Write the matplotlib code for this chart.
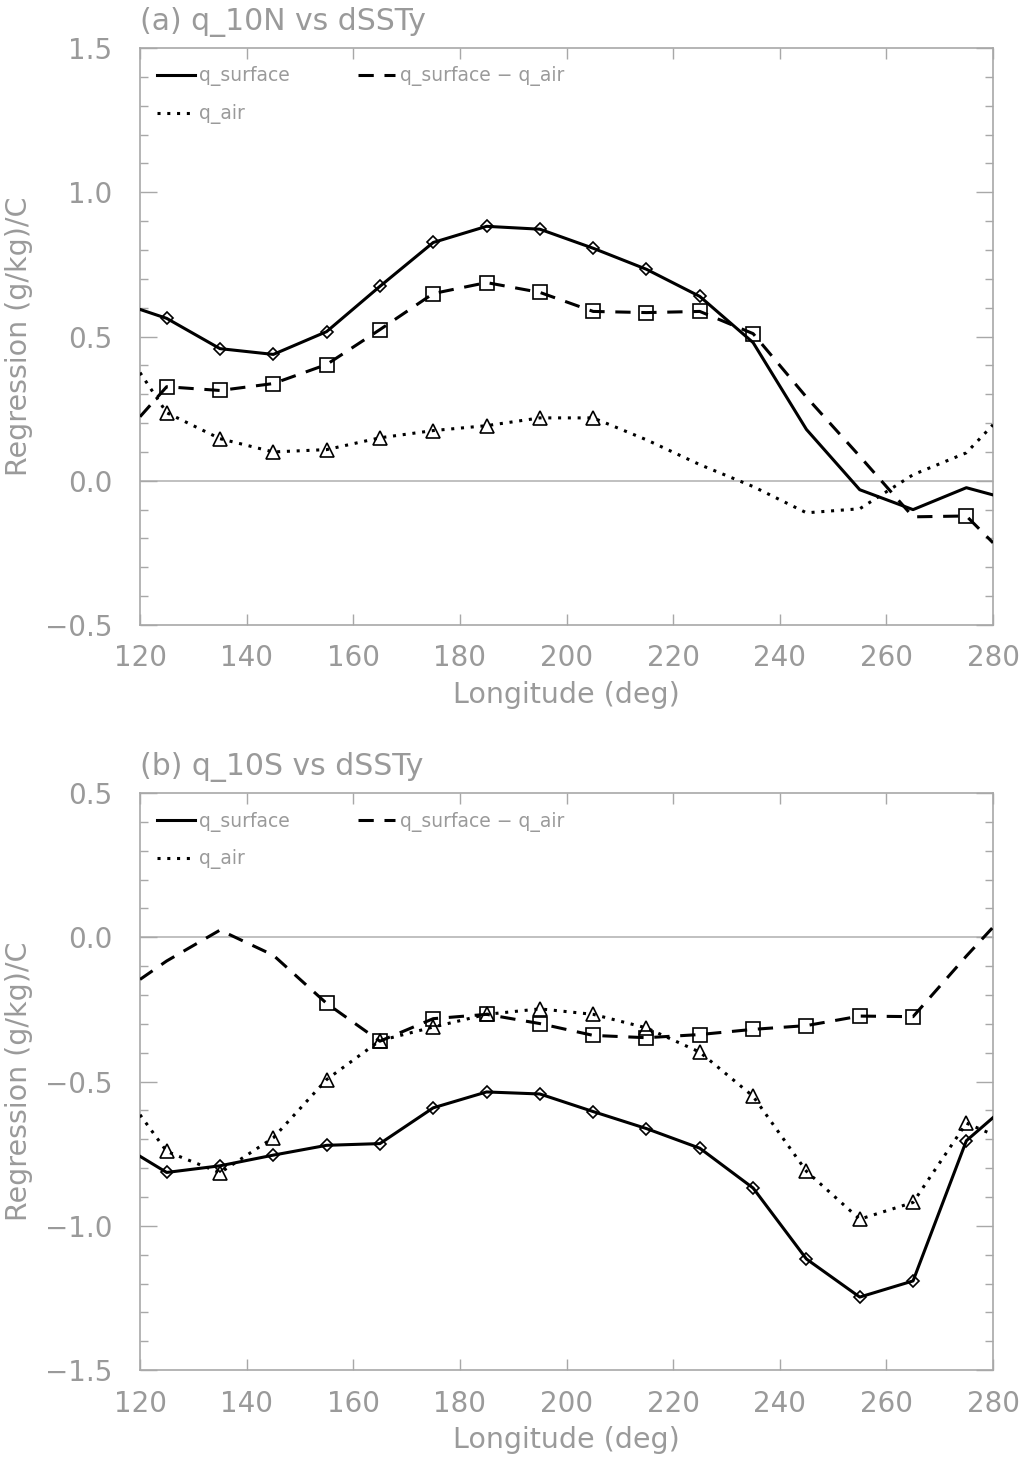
import matplotlib
matplotlib.use("Agg")
import matplotlib.pyplot as plt
from matplotlib.ticker import MultipleLocator, FuncFormatter

# longitudes of the curves (line ends clipped at the frame)
lon = [120, 125, 135, 145, 155, 165, 175, 185, 195, 205, 215, 225, 235, 245, 255, 265, 275, 280]

# (a) q_10N vs dSSTy
qsurf_10n = [0.594, 0.563, 0.458, 0.438, 0.517, 0.674, 0.826, 0.882, 0.872, 0.806, 0.733, 0.639,
             0.479, 0.178, -0.031, -0.100, -0.024, -0.049]
qdiff_10n = [0.222, 0.326, 0.313, 0.337, 0.403, 0.524, 0.649, 0.687, 0.653, 0.587, 0.583, 0.587,
             0.510, 0.290, 0.085, -0.125, -0.122, -0.215]
qair_10n = [0.375, 0.236, 0.146, 0.100, 0.108, 0.149, 0.174, 0.191, 0.218, 0.218, 0.142, 0.056,
            -0.020, -0.111, -0.097, 0.021, 0.097, 0.194]
# longitudes where a symbol is drawn
qsurf_10n_sig = [125, 135, 145, 155, 165, 175, 185, 195, 205, 215, 225]
qdiff_10n_sig = [125, 135, 145, 155, 165, 175, 185, 195, 205, 215, 225, 235, 275]
qair_10n_sig = [125, 135, 145, 155, 165, 175, 185, 195, 205]

# (b) q_10S vs dSSTy
qsurf_10s = [-0.759, -0.815, -0.792, -0.755, -0.721, -0.715, -0.591, -0.536, -0.543, -0.604, -0.663,
             -0.731, -0.869, -1.115, -1.247, -1.191, -0.705, -0.625]
qdiff_10s = [-0.146, -0.082, 0.025, -0.062, -0.229, -0.360, -0.282, -0.267, -0.299, -0.340, -0.348,
             -0.337, -0.319, -0.306, -0.273, -0.275, -0.065, 0.035]
qair_10s = [-0.615, -0.742, -0.816, -0.695, -0.493, -0.358, -0.311, -0.267, -0.248, -0.267, -0.314,
            -0.398, -0.551, -0.811, -0.977, -0.919, -0.644, -0.684]
qsurf_10s_sig = [125, 135, 145, 155, 165, 175, 185, 195, 205, 215, 225, 235, 245, 255, 265, 275]
qdiff_10s_sig = [155, 165, 175, 185, 195, 205, 215, 225, 235, 245, 255, 265]
qair_10s_sig = [125, 135, 145, 155, 165, 175, 185, 195, 205, 215, 225, 235, 245, 255, 265, 275]

GREY_TXT = "#9a9a9a"
GREY_AX = "#a8a8a8"
LW = 2.2


def pick(vals, sig):
    xs = [x for x in lon if x in sig]
    ys = [v for x, v in zip(lon, vals) if x in sig]
    return xs, ys


def fmt_y(v, pos):
    s = f"{abs(v):.1f}"
    return ("\u2212" + s) if v < -1e-9 else s


def panel(ax, title, ylim, qsurf, qdiff, qair, s_sig, d_sig, a_sig):
    ax.axhline(0, color="#b5b5b5", lw=1.2, zorder=1)

    h1, = ax.plot(lon, qsurf, color="k", lw=LW, ls="-", label="q_surface", zorder=3)
    h2, = ax.plot(lon, qdiff, color="k", lw=LW, ls=(0, (5, 3.5)), label="q_surface \u2212 q_air", zorder=3)
    h3, = ax.plot(lon, qair, color="k", lw=LW, ls=(0, (1, 2.2)), label="q_air", zorder=3)

    mk = dict(ls="none", mfc="none", mec="k", mew=1.2, zorder=4)
    ax.plot(*pick(qsurf, s_sig), marker="D", ms=6.5, **mk)
    ax.plot(*pick(qdiff, d_sig), marker="s", ms=10, **mk)
    ax.plot(*pick(qair, a_sig), marker="^", ms=10, **mk)

    ax.set_xlim(120, 280)
    ax.set_ylim(*ylim)
    ax.xaxis.set_major_locator(MultipleLocator(20))
    ax.yaxis.set_major_locator(MultipleLocator(0.5))
    ax.yaxis.set_minor_locator(MultipleLocator(0.1))
    ax.yaxis.set_major_formatter(FuncFormatter(fmt_y))

    ax.tick_params(axis="x", which="major", direction="in", top=True, length=8, width=1,
                   color=GREY_AX, labelcolor=GREY_TXT, labelsize=20, pad=14)
    ax.tick_params(axis="y", which="major", direction="in", right=True, length=12, width=1,
                   color=GREY_AX, labelcolor=GREY_TXT, labelsize=20, pad=20)
    ax.tick_params(axis="y", which="minor", direction="in", right=True, length=6, width=1,
                   color=GREY_AX)
    for sp in ax.spines.values():
        sp.set_color(GREY_AX)
        sp.set_linewidth(1.2)

    ax.set_xlabel("Longitude (deg)", color=GREY_TXT, fontsize=20.5, labelpad=6)
    ax.set_ylabel("Regression (g/kg)/C", color=GREY_TXT, fontsize=20.5)
    ax.yaxis.set_label_coords(-0.126, 0.5)
    ax.set_title(title, loc="left", color=GREY_TXT, fontsize=21.5, pad=13)

    leg = ax.legend(handles=[h1, h3, h2], ncol=2, loc="upper left", bbox_to_anchor=(0.02, 0.968),
                    frameon=False, fontsize=13.5, handlelength=2.0, handletextpad=0.25,
                    columnspacing=3.6, labelspacing=0.95, borderpad=0, borderaxespad=0)
    for t in leg.get_texts():
        t.set_color(GREY_TXT)


fig = plt.figure(figsize=(10.25, 14.6), dpi=100)
ax_a = fig.add_axes([0.1366, 0.5719, 0.8322, 0.3952])
ax_b = fig.add_axes([0.1366, 0.0616, 0.8322, 0.3952])

panel(ax_a, "(a) q_10N vs dSSTy", (-0.5, 1.5), qsurf_10n, qdiff_10n, qair_10n,
      qsurf_10n_sig, qdiff_10n_sig, qair_10n_sig)
panel(ax_b, "(b) q_10S vs dSSTy", (-1.5, 0.5), qsurf_10s, qdiff_10s, qair_10s,
      qsurf_10s_sig, qdiff_10s_sig, qair_10s_sig)

fig.savefig("out.png", dpi=100)
